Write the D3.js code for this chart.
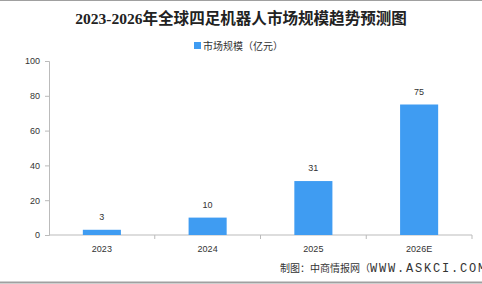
<!DOCTYPE html>
<html>
<head>
<meta charset="utf-8">
<script src="https://cdn.jsdelivr.net/npm/d3@7"></script>
<style>
  body { margin: 0; background: #fff; }
  svg { display: block; }
</style>
</head>
<body>
<div id="chart"></div>
<script>
// Chart data
const years = ["2023", "2024", "2025", "2026E"];
const marketSize = [3, 10, 31, 75];
const yTicks = [0, 20, 40, 60, 80, 100];

const W = 482, H = 284;
const margin = { top: 61, right: 10, bottom: 49, left: 49 };
const width = W - margin.left - margin.right,
      height = H - margin.top - margin.bottom;

const svg = d3.select("#chart")
    .append("svg")
    .attr("width", W)
    .attr("height", H);

// border lines top & bottom
svg.append("line").attr("x1", 0).attr("x2", W).attr("y1", 0.5).attr("y2", 0.5)
    .attr("stroke", "#a0a0a0").attr("stroke-width", 1);
svg.append("line").attr("x1", 0).attr("x2", W).attr("y1", 282.5).attr("y2", 282.5)
    .attr("stroke", "#a0a0a0").attr("stroke-width", 2);

// Title, sized so it spans roughly x 75..407 like the original
const title = svg.append("text")
    .attr("x", 241)
    .attr("y", 24)
    .attr("text-anchor", "middle")
    .style("font-family", "'Liberation Serif', 'Noto Sans CJK SC', serif")
    .style("font-weight", "bold")
    .style("font-size", "16px")
    .style("fill", "#222")
    .text("2023-2026年全球四足机器人市场规模趋势预测图");
const tw = title.node().getComputedTextLength();
title.style("font-size", (16 * 332 / tw).toFixed(2) + "px");

// Legend
const legend = svg.append("g").attr("transform", "translate(194,42)");
legend.append("rect").attr("width", 7).attr("height", 7).attr("fill", "#3f9cf2");
legend.append("text")
    .attr("x", 9)
    .attr("y", 7.5)
    .style("font-family", "'Noto Sans CJK SC', sans-serif")
    .style("font-size", "10px")
    .style("fill", "#333")
    .text("市场规模（亿元）");

const g = svg.append("g")
    .attr("transform", `translate(${margin.left},${margin.top})`);

const x = d3.scaleBand()
    .domain(years)
    .range([0, width])
    .paddingInner(0.64)
    .paddingOuter(0.32);

const y = d3.scaleLinear()
    .domain([0, 100])
    .range([height, 0]);

// Y axis
const yAxis = g.append("g")
    .call(d3.axisLeft(y).tickValues(yTicks).tickSize(4).tickPadding(5));
yAxis.select(".domain").attr("stroke", "#bbb");
yAxis.selectAll(".tick line").attr("stroke", "#bbb");
yAxis.selectAll("text")
    .style("font-family", "Arial, 'Liberation Sans', sans-serif")
    .style("font-size", "9px")
    .style("fill", "#333");

// X axis: ticks at band boundaries
const xAxisG = g.append("g").attr("transform", `translate(0,${height})`);
xAxisG.append("line")
    .attr("x1", 0).attr("x2", width)
    .attr("stroke", "#bbb");
const step = x.step();
years.forEach((yr, i) => {
    const bx = x(yr) + x.bandwidth() / 2;
    xAxisG.append("line")
        .attr("x1", bx + step / 2).attr("x2", bx + step / 2)
        .attr("y1", 0).attr("y2", 4)
        .attr("stroke", "#bbb");
    xAxisG.append("text")
        .attr("x", bx)
        .attr("y", 17)
        .attr("text-anchor", "middle")
        .style("font-family", "Arial, 'Liberation Sans', sans-serif")
        .style("font-size", "9px")
        .style("fill", "#333")
        .text(yr);
});

// Bars
g.selectAll(".bar")
    .data(marketSize)
    .enter()
    .append("rect")
    .attr("x", (d, i) => x(years[i]))
    .attr("y", d => y(d))
    .attr("width", x.bandwidth())
    .attr("height", d => height - y(d))
    .attr("fill", "#3f9cf2");

// Value labels
g.selectAll(".label")
    .data(marketSize)
    .enter()
    .append("text")
    .attr("x", (d, i) => x(years[i]) + x.bandwidth() / 2)
    .attr("y", d => y(d) - 10)
    .attr("text-anchor", "middle")
    .style("font-family", "Arial, 'Liberation Sans', sans-serif")
    .style("font-size", "9px")
    .style("fill", "#333")
    .text(d => d);

// Source note (runs off the right edge as in the original)
const note = svg.append("text")
    .attr("x", 280)
    .attr("y", 272)
    .style("fill", "#333");
note.append("tspan")
    .style("font-family", "'Noto Sans CJK SC', sans-serif")
    .style("font-size", "10px")
    .text("制图：中商情报网（");
note.append("tspan")
    .style("font-family", "'Liberation Mono', monospace")
    .style("font-size", "12px")
    .style("letter-spacing", "1.8px")
    .text("WWW.ASKCI.COM）");
</script>
</body>
</html>
